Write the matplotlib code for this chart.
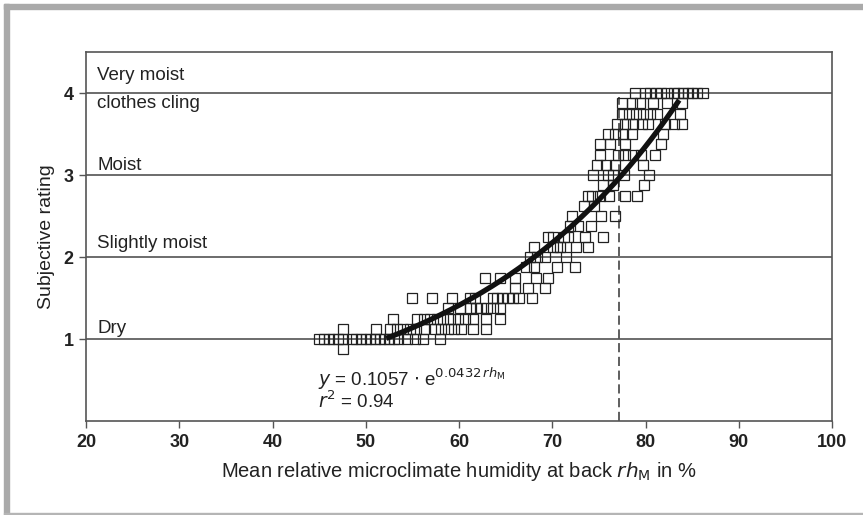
import matplotlib
matplotlib.use("Agg")
import numpy as np
import matplotlib.pyplot as plt
from matplotlib.patches import Rectangle

plt.rcParams['font.family'] = ['Liberation Sans', 'DejaVu Sans']

# observed points, grouped by rating level (rating: humidity values in %)
rows = {
    0.875: [47.6],
    1.0: [45.0, 45.5, 46.0, 46.5, 47.0, 47.5, 48.5, 49.0, 49.5, 50.0, 50.5, 51.0,
          51.5, 52.0, 52.5, 53.0, 53.5, 54.4, 55.3, 56.1, 58.0],
    1.125: [47.6, 51.1, 52.6, 53.3, 54.0, 54.7, 55.4, 56.2, 57.4, 58.1, 58.8,
            59.5, 60.2, 61.5, 62.9],
    1.25: [52.9, 55.5, 56.2, 56.9, 57.6, 58.3, 59.0, 59.9, 60.6, 61.5, 62.9, 64.4],
    1.375: [58.8, 60.1, 61.2, 61.8, 62.3, 63.0, 63.6, 64.4],
    1.5: [55.0, 57.1, 59.2, 61.2, 61.7, 63.6, 64.1, 64.6, 65.2, 65.8, 66.4, 67.8],
    1.625: [66.0, 67.4, 69.2],
    1.75: [62.8, 64.4, 66.0, 68.2, 69.5],
    1.875: [67.2, 68.0, 70.5, 72.4],
    2.0: [67.6, 68.4, 69.2, 71.5],
    2.125: [68.0, 70.1, 70.5, 70.8, 72.5, 73.8],
    2.25: [69.5, 70.1, 71.2, 71.7, 73.5, 75.4],
    2.375: [71.9, 72.8, 74.2],
    2.5: [72.1, 75.2, 76.7],
    2.625: [73.4, 74.5],
    2.75: [73.8, 74.3, 75.1, 76.1, 77.8, 79.1],
    2.875: [75.4, 76.5, 79.8],
    3.0: [74.4, 76.0, 76.5, 77.7, 80.4],
    3.125: [74.8, 75.8, 76.7, 79.7],
    3.25: [75.1, 77.0, 77.8, 78.6, 79.5, 81.0],
    3.375: [75.1, 76.2, 77.8, 81.6],
    3.5: [76.0, 76.7, 77.6, 78.5, 81.9],
    3.625: [76.9, 77.8, 78.7, 79.6, 80.3, 82.1, 83.0, 83.9],
    3.75: [77.5, 78.2, 79.0, 79.7, 80.5, 81.2, 83.7],
    3.875: [77.5, 78.5, 79.4, 80.8, 82.3, 83.9],
    4.0: [78.9, 79.9, 80.5, 81.1, 81.7, 82.3, 83.0, 83.5, 84.0, 84.5, 85.0,
          85.5, 86.2],
}

levels = [1, 2, 3, 4]
level_labels = ["Very moist", "clothes cling", "Moist", "Slightly moist", "Dry"]
label_levels = [4, 4, 3, 2, 1]

a, b = 0.1057, 0.0432
fit_range = (52.2, 83.6)
rh_limit = 77.2

fig = plt.figure(figsize=(8.63, 5.15), dpi=100)
ax = fig.add_axes([0.0997, 0.1825, 0.8645, 0.7165])

# grey frame around the figure
fig.patches.append(Rectangle((4 / 863, 0), 5 / 863, 1 - 4 / 515, transform=fig.transFigure,
                             color='#aaaaaa', zorder=0))
fig.patches.append(Rectangle((4 / 863, 1 - 9 / 515), 1, 5 / 515, transform=fig.transFigure,
                             color='#aaaaaa', zorder=0))
fig.patches.append(Rectangle((4 / 863, 1 / 515), 1, 1.5 / 515, transform=fig.transFigure,
                             color='#b5b5b5', zorder=0))

for lv in levels:
    ax.axhline(lv, color='#444444', lw=1.1, zorder=1)

# label offsets relative to the level line (in rating units)
offsets = [0.21, -0.13, 0.11, 0.16, 0.13]
for txt, lv, off in zip(level_labels, label_levels, offsets):
    ax.text(21.2, lv + off, txt, fontsize=13.5, va='center', ha='left', color='#222222')

xs, ys = [], []
for r, vals in rows.items():
    xs += vals
    ys += [r] * len(vals)
ax.plot(xs, ys, 's', ms=6.7, mfc='none', mec='#222222', mew=0.9, zorder=2)

xf = np.linspace(fit_range[0], fit_range[1], 200)
ax.plot(xf, a * np.exp(b * xf), color='#111111', lw=3.8, zorder=3, solid_capstyle='butt')

ax.plot([rh_limit, rh_limit], [0, 3.95], color='#333333', lw=1.1, dashes=(6, 3), zorder=1)

ax.text(44.9, 0.43, r"$y$ = 0.1057 $\cdot$ e$^{0.0432\,rh_\mathrm{M}}$", fontsize=13.5,
        va='baseline', ha='left', color='#222222')
ax.text(44.9, 0.16, r"$r^2$ = 0.94", fontsize=13.5, va='baseline', ha='left', color='#222222')

ax.set_xlim(20, 100)
ax.set_ylim(0, 4.5)
ax.set_xticks(range(20, 101, 10))
ax.set_yticks(levels)
ax.tick_params(direction='out', length=5, width=1, color='#555555', labelsize=13,
               labelcolor='#222222', pad=4)
for lab in ax.get_xticklabels() + ax.get_yticklabels():
    lab.set_fontweight('bold')
for sp in ax.spines.values():
    sp.set_color('#555555')
    sp.set_linewidth(1.2)

ax.set_xlabel(r"Mean relative microclimate humidity at back $rh_\mathrm{M}$ in %",
              fontsize=14.5, labelpad=7, color='#222222')
ax.set_ylabel("Subjective rating", fontsize=14, labelpad=6, color='#222222')

fig.savefig("out.png", dpi=100)
